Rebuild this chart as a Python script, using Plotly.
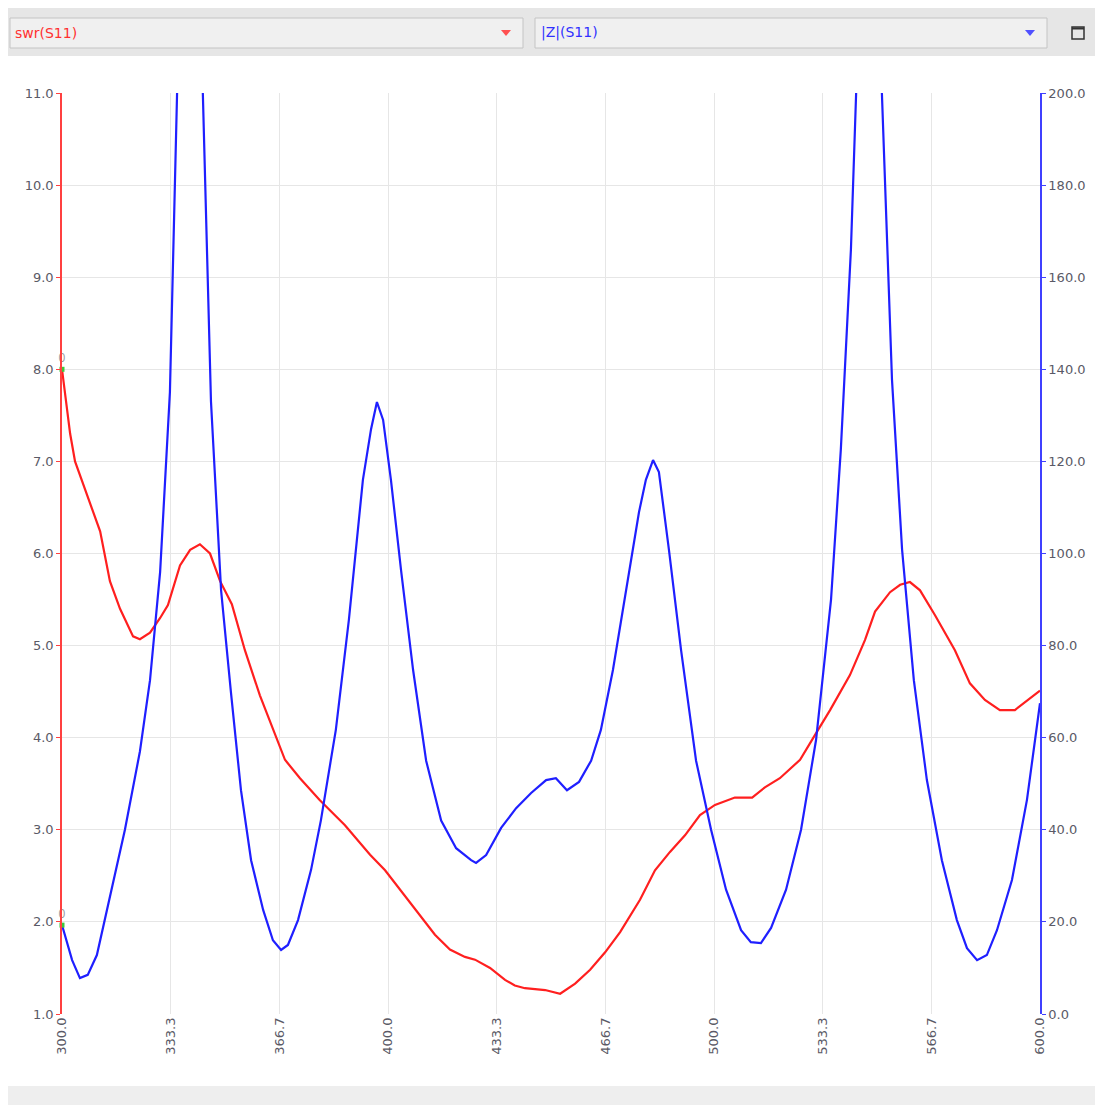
import plotly.graph_objects as go

# ---- data ----
swr_freq = [300.0, 302.5, 304.0, 311.7, 314.7, 317.8, 321.8, 323.9, 327.0, 330.1, 332.5, 336.2, 339.3,
            342.3, 345.4, 348.5, 352.1, 356.1, 360.7, 365.3, 368.4, 373.0, 379.1, 386.8, 389.9, 394.5,
            399.1, 403.7, 409.8, 414.4, 419.0, 423.6, 426.7, 431.3, 435.9, 438.9, 442.0, 448.2, 452.8,
            457.4, 462.0, 466.6, 471.2, 477.3, 481.9, 486.5, 491.1, 495.7, 500.3, 506.4, 511.7, 515.6,
            520.2, 526.4, 531.0, 535.6, 541.7, 546.3, 549.4, 554.0, 557.1, 560.1, 563.2, 567.8, 573.9,
            578.5, 583.1, 587.7, 592.3, 596.9, 600.0]
swr_vals = [8.00, 7.30, 7.00, 6.24, 5.70, 5.40, 5.10, 5.07, 5.14, 5.30, 5.44, 5.87, 6.04,
            6.10, 6.00, 5.70, 5.45, 4.95, 4.46, 4.03, 3.76, 3.56, 3.32, 3.05, 2.92, 2.73,
            2.56, 2.35, 2.07, 1.86, 1.70, 1.62, 1.59, 1.50, 1.37, 1.31, 1.28, 1.26, 1.22,
            1.33, 1.48, 1.67, 1.89, 2.24, 2.56, 2.76, 2.94, 3.16, 3.27, 3.35, 3.35, 3.46,
            3.56, 3.76, 4.03, 4.30, 4.68, 5.06, 5.37, 5.58, 5.66, 5.69, 5.60, 5.33, 4.95,
            4.59, 4.41, 4.30, 4.30, 4.43, 4.51]

z_freq = [300.0, 303.1, 305.5, 307.9, 310.7, 314.7, 319.3, 323.9, 327.0, 330.1, 333.1, 335.3, 337.1,
          339.3, 341.4, 343.2, 345.7, 348.8, 351.8, 354.9, 358.0, 361.7, 364.7, 367.2, 369.3, 372.4,
          376.4, 379.4, 384.0, 388.0, 392.3, 394.8, 396.6, 398.5, 400.9, 404.0, 407.7, 411.7, 416.3,
          420.9, 425.5, 427.0, 430.1, 434.7, 439.3, 443.9, 448.5, 451.5, 454.9, 458.6, 462.3, 465.3,
          469.0, 473.0, 477.0, 479.1, 481.3, 483.1, 486.2, 489.9, 494.5, 499.1, 503.7, 508.3, 511.3,
          514.4, 517.5, 522.1, 526.7, 531.3, 535.9, 538.9, 542.0, 543.6, 545.6, 547.6, 550.0, 551.5,
          554.6, 557.7, 561.3, 565.3, 569.9, 574.5, 577.6, 580.7, 583.7, 586.8, 591.4, 596.0, 600.0]
z_vals = [19.3, 11.7, 7.8, 8.5, 12.8, 25.8, 40.0, 57.0, 72.5, 96.0, 135.0, 200.0, 260.0,
          300.0, 260.0, 200.0, 133.0, 92.0, 70.0, 48.6, 33.4, 22.6, 16.0, 13.9, 15.0, 20.4,
          31.3, 42.0, 61.7, 85.6, 116.0, 127.0, 132.9, 129.0, 116.0, 96.4, 74.7, 55.0, 42.0,
          36.0, 33.4, 32.8, 34.5, 40.4, 44.7, 48.0, 50.8, 51.2, 48.6, 50.4, 55.0, 61.7,
          74.7, 92.0, 109.0, 116.0, 120.3, 117.7, 100.7, 79.0, 55.0, 40.0, 27.0, 18.2, 15.6,
          15.4, 18.7, 27.0, 40.0, 59.5, 90.0, 122.5, 166.0, 200.0, 260.0, 300.0, 260.0, 200.0,
          137.7, 100.8, 72.5, 50.8, 33.4, 20.4, 14.3, 11.7, 12.8, 18.2, 29.1, 46.5, 67.5]

x_ticks = [300.0, 333.3, 366.7, 400.0, 433.3, 466.7, 500.0, 533.3, 566.7, 600.0]
x_labels = ["300.0", "333.3", "366.7", "400.0", "433.3", "466.7", "500.0", "533.3", "566.7", "600.0"]
y_ticks = [1.0, 2.0, 3.0, 4.0, 5.0, 6.0, 7.0, 8.0, 9.0, 10.0, 11.0]
y2_ticks = [0, 20, 40, 60, 80, 100, 120, 140, 160, 180, 200]

marker_x = [300.0]
marker_swr = [8.0]
marker_z = [19.3]

RED = "#ff1f1f"
BLUE = "#1f1fff"
OFF = 8  # page body margin
W, H = 1087, 1097
L, T = 62 - OFF, 93 - OFF
R = W - (1040 - OFF)
B = H - (1014 - OFF)
PW, PH = W - L - R, H - T - B


def px(x):
    return (x - OFF - L) / PW


def py(y):
    return (H - B - (y - OFF)) / PH


fig = go.Figure()
fig.add_trace(go.Scatter(x=swr_freq, y=swr_vals, mode="lines", line=dict(color=RED, width=2.2),
                         yaxis="y", showlegend=False))
fig.add_trace(go.Scatter(x=z_freq, y=z_vals, mode="lines", line=dict(color=BLUE, width=2.2),
                         yaxis="y2", showlegend=False))
fig.add_trace(go.Scatter(x=marker_x, y=marker_swr, mode="markers+text", text=["0"],
                         textposition="top center", textfont=dict(size=12, color="#999"),
                         marker=dict(color="#3cc83c", size=5, symbol="square"),
                         yaxis="y", showlegend=False, cliponaxis=False))
fig.add_trace(go.Scatter(x=marker_x, y=marker_z, mode="markers+text", text=["0"],
                         textposition="top center", textfont=dict(size=12, color="#999"),
                         marker=dict(color="#3cc83c", size=5, symbol="square"),
                         yaxis="y2", showlegend=False, cliponaxis=False))

tickfont = dict(family="DejaVu Sans", size=13, color="#5a5a66")

shapes = [
    # toolbar background
    dict(type="rect", xref="paper", yref="paper", x0=px(8), x1=px(1103), y0=py(56), y1=py(8),
         fillcolor="#e6e6e6", line=dict(width=0), layer="below"),
    # dropdowns
    dict(type="rect", xref="paper", yref="paper", x0=px(10), x1=px(523), y0=py(48), y1=py(18),
         fillcolor="#f0f0f0", line=dict(color="#c4c4c4", width=1), layer="below"),
    dict(type="rect", xref="paper", yref="paper", x0=px(535), x1=px(1047), y0=py(48), y1=py(18),
         fillcolor="#f0f0f0", line=dict(color="#c4c4c4", width=1), layer="below"),
    # bottom band
    dict(type="rect", xref="paper", yref="paper", x0=px(8), x1=px(1103), y0=py(1113), y1=py(1086),
         fillcolor="#eeeeee", line=dict(width=0), layer="below"),
    # maximize icon
    dict(type="rect", xref="paper", yref="paper", x0=px(1072), x1=px(1084), y0=py(39), y1=py(27),
         fillcolor="rgba(0,0,0,0)", line=dict(color="#333333", width=1.5)),
    dict(type="line", xref="paper", yref="paper", x0=px(1072), x1=px(1084), y0=py(28.5), y1=py(28.5),
         line=dict(color="#333333", width=2)),
    # dropdown arrows
    dict(type="path", xref="paper", yref="paper",
         path=f"M {px(501)},{py(30)} L {px(511)},{py(30)} L {px(506)},{py(36)} Z",
         fillcolor="#ff5050", line=dict(width=0)),
    dict(type="path", xref="paper", yref="paper",
         path=f"M {px(1025)},{py(30)} L {px(1035)},{py(30)} L {px(1030)},{py(36)} Z",
         fillcolor="#5050ff", line=dict(width=0)),
]

annotations = [
    dict(xref="paper", yref="paper", x=px(13), y=py(33), text="swr(S11)", showarrow=False,
         xanchor="left", yanchor="middle", font=dict(family="DejaVu Sans", size=14, color="#ff3030")),
    dict(xref="paper", yref="paper", x=px(539), y=py(33), text="|Z|(S11)", showarrow=False,
         xanchor="left", yanchor="middle", font=dict(family="DejaVu Sans", size=14, color="#3030ff")),
]

fig.update_layout(
    width=W, height=H,
    margin=dict(l=L, r=R, t=T, b=B, autoexpand=False),
    paper_bgcolor="white", plot_bgcolor="white",
    showlegend=False,
    shapes=shapes, annotations=annotations,
    xaxis=dict(range=[300, 600], tickvals=x_ticks, ticktext=x_labels, tickangle=-90,
               showgrid=True, gridcolor="#e6e6e6", gridwidth=1, zeroline=False,
               showline=False, ticks="", tickfont=tickfont),
    yaxis=dict(range=[1, 11], tickvals=y_ticks, ticktext=[f"{v:.1f}" for v in y_ticks],
               showgrid=True, gridcolor="#e6e6e6", gridwidth=1, zeroline=False,
               showline=True, linecolor="#ff4040", linewidth=1.5,
               ticks="outside", ticklen=4, tickcolor="#ff4040", tickfont=tickfont),
    yaxis2=dict(range=[0, 200], tickvals=y2_ticks, ticktext=[f"{v:.1f}" for v in y2_ticks],
                overlaying="y", side="right", showgrid=False, zeroline=False,
                showline=True, linecolor="#4040ff", linewidth=1.5,
                ticks="outside", ticklen=4, tickcolor="#4040ff", tickfont=tickfont),
)

fig.write_html("out.html")
